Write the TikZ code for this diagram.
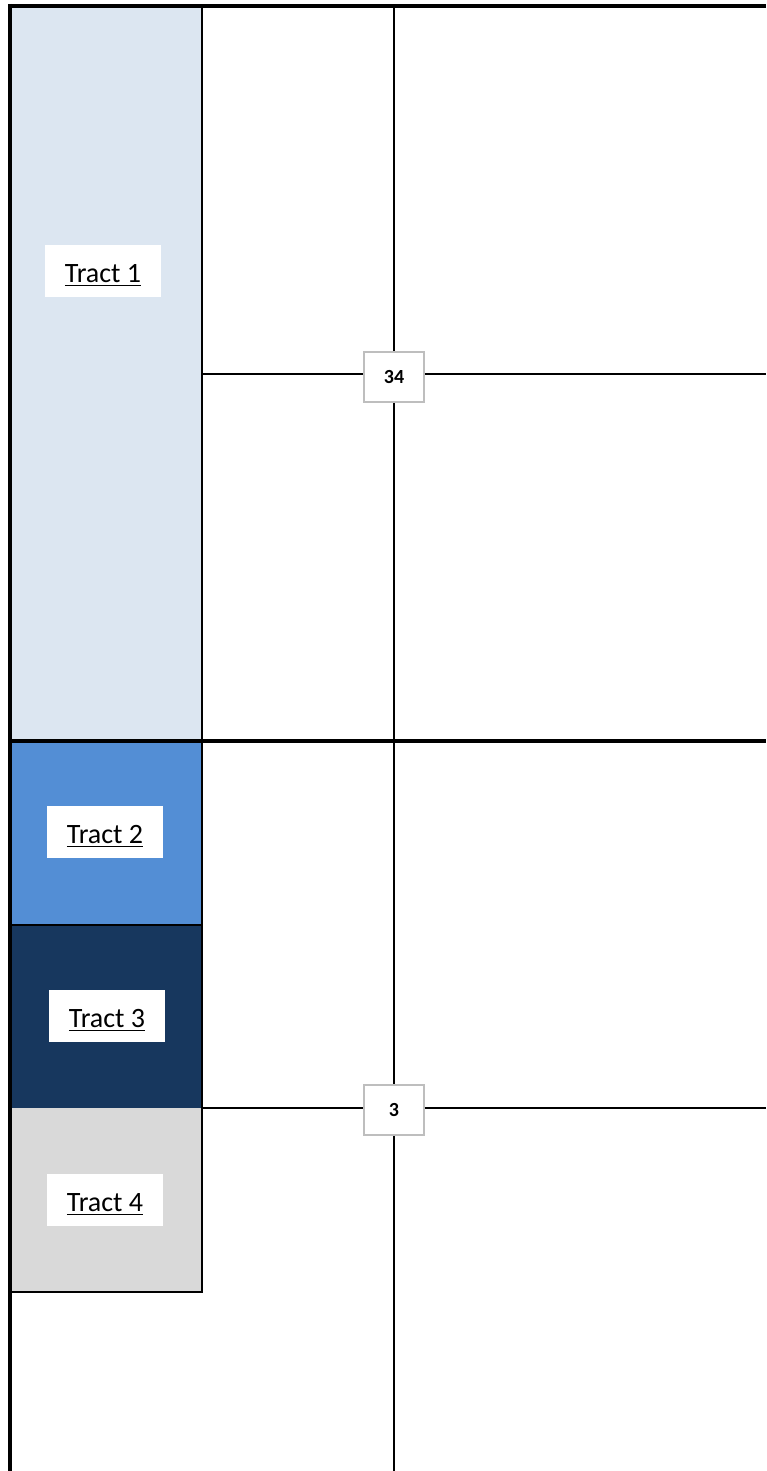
\documentclass[tikz,border=0pt]{standalone}
\usepackage{fontspec}
\setmainfont{Carlito}
\usepackage{tikz}

\definecolor{tractone}{RGB}{220,230,241}
\definecolor{tracttwo}{RGB}{83,142,213}
\definecolor{tractthree}{RGB}{23,55,94}
\definecolor{tractfour}{RGB}{217,217,217}
\definecolor{countgray}{RGB}{190,190,190}

\begin{document}
\begin{tikzpicture}[x=0.5pt,y=-0.5pt]

\tikzset{
  tract label/.style={
    fill=white,
    inner sep=0pt,
    minimum width=58pt,
    minimum height=26pt,
    text height=11pt,
    text depth=0pt,
    font=\fontsize{14}{16}\selectfont,
  },
  count box/.style={
    draw=countgray,
    line width=0.75pt,
    fill=white,
    inner sep=0pt,
    minimum width=30pt,
    minimum height=25pt,
    font=\fontsize{10}{12}\selectfont\bfseries,
  },
  border line/.style={line width=2pt},
  grid line/.style={line width=1pt},
}

  \useasboundingbox (0,0) rectangle (766,1471);

  % Tract fills
  \fill[tractone]   (11,8)    rectangle (202,741);
  \fill[tracttwo]   (11,741)  rectangle (202,925);
  \fill[tractthree] (11,925)  rectangle (202,1108);
  \fill[tractfour]  (11,1108) rectangle (202,1292);

  % Tract labels
  \node[tract label] (t1) at (103,271)  {\underline{Tract 1}};
  \node[tract label] (t2) at (105,832)  {\underline{Tract 2}};
  \node[tract label] (t3) at (107,1016) {\underline{Tract 3}};
  \node[tract label] (t4) at (105,1200) {\underline{Tract 4}};

  % Counts
  \node[count box] (c34) at (394,377)  {34};
  \node[count box] (c3)  at (394,1110) {3};

  % Ends of the lines
  \coordinate (mid top) at (394,6);
  \coordinate (mid bottom) at (394,1471);
  \coordinate (upper west) at (202,374);
  \coordinate (upper east) at (766,374);
  \coordinate (lower west) at (202,1108);
  \coordinate (lower east) at (766,1108);

  % Lines
  \draw[grid line] (mid top) -- (c34) -- (c3) -- (mid bottom);
  \draw[grid line] (upper west) -- (upper west -| c34.west);
  \draw[grid line] (upper east -| c34.east) -- (upper east);
  \draw[grid line] (lower west) -- (lower west -| c3.west);
  \draw[grid line] (lower east -| c3.east) -- (lower east);

  % Column edges
  \draw[grid line] (202,6) -- (202,1293);
  \draw[grid line] (11,925) -- (202,925);
  \draw[grid line] (11,1292) -- (203,1292);

  % Borders
  \draw[border line] (8,6) -- (766,6);
  \draw[border line] (10,4) -- (10,1471);
  \draw[border line] (10,741) -- (766,741);
\end{tikzpicture}
\end{document}
